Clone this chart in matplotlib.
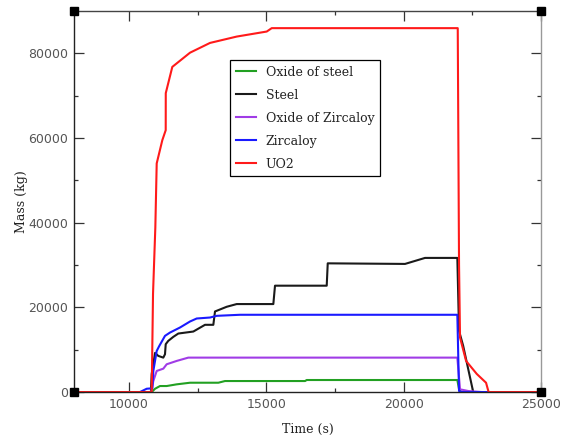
import matplotlib
matplotlib.use("Agg")
import matplotlib.pyplot as plt
from matplotlib.ticker import MultipleLocator

# Masses vs time
t_oxsteel = [8000, 10828, 10950, 11130, 11374, 11738, 12222, 13253, 13496, 16410, 16470, 21952, 22014, 22087, 25000]
m_oxsteel = [0, 0, 780, 1420, 1420, 1820, 2200, 2200, 2600, 2600, 2840, 2840, 640, 0, 0]

t_steel = [8000, 10800, 10828, 10950, 11070, 11250, 11312, 11338, 11432, 11614, 11797, 12343, 12768, 13071,
           13132, 13558, 13922, 15255, 15316, 17198, 17235, 20048, 20776, 21952, 22014, 22165, 22530, 25000]
m_steel = [0, 0, 4270, 9240, 8530, 8130, 8930, 11300, 12090, 13030, 13820, 14290, 15880, 15880,
           19030, 20140, 20780, 20780, 25120, 25120, 30400, 30260, 31680, 31680, 14450, 10900, 0, 0]

t_oxzirc = [8000, 10800, 10828, 10887, 11010, 11250, 11374, 11738, 12160, 21952, 22050, 22352, 22840, 25000]
m_oxzirc = [0, 0, 470, 2600, 4980, 5520, 6560, 7350, 8130, 8130, 640, 240, 0, 0]

t_zirc = [8000, 10400, 10464, 10646, 10850, 10887, 11010, 11105, 11312, 11494, 11858, 12222, 12466, 12950,
          13194, 14042, 21952, 22014, 22123, 25000]
m_zirc = [0, 0, 200, 780, 880, 4980, 9700, 10900, 13270, 14050, 15240, 16660, 17370, 17600,
          18000, 18250, 18250, 240, 0, 0]

t_uo2 = [8000, 10828, 10876, 10960, 11010, 11214, 11338, 11340, 11578, 12222, 12950, 13922, 15015, 15197,
         21967, 22014, 22050, 22270, 22660, 22997, 23080, 23100, 25000]
m_uo2 = [0, 0, 23200, 38860, 54000, 59480, 61850, 70600, 76800, 80150, 82460, 83960, 85150, 85950,
         85950, 30000, 12870, 7350, 4270, 2200, 240, 0, 0]

series = [
    ("Oxide of steel", t_oxsteel, m_oxsteel, "#22a022"),
    ("Steel", t_steel, m_steel, "#1a1a1a"),
    ("Oxide of Zircaloy", t_oxzirc, m_oxzirc, "#a03ce6"),
    ("Zircaloy", t_zirc, m_zirc, "#1a1aff"),
    ("UO2", t_uo2, m_uo2, "#ff1a1a"),
]

fig = plt.figure(figsize=(5.71, 4.40), dpi=100)
ax = fig.add_axes([0.1296, 0.109, 0.818, 0.866])

for name, t, m, c in series:
    ax.plot(t, m, color=c, lw=1.5, label=name)

ax.set_xlim(8000, 25000)
ax.set_ylim(0, 90000)
ax.xaxis.set_major_locator(MultipleLocator(5000))
ax.xaxis.set_minor_locator(MultipleLocator(2500))
ax.yaxis.set_major_locator(MultipleLocator(20000))
ax.yaxis.set_minor_locator(MultipleLocator(10000))
ax.tick_params(which="both", direction="in", top=True, right=True, width=0.9,
               labelsize=9, labelcolor="#555555", color="#333333", pad=4)
ax.tick_params(which="major", length=7)
ax.tick_params(which="minor", length=3)

ax.spines["left"].set_color("#222222")
ax.spines["bottom"].set_color("#222222")
ax.spines["top"].set_color("#444444")
ax.spines["right"].set_color("#999999")
for s in ax.spines.values():
    s.set_linewidth(1.0)

# corner squares
ax.plot([0, 1, 0, 1], [0, 0, 1, 1], "s", color="black", ms=6,
        transform=ax.transAxes, clip_on=False, zorder=5)

ax.set_xlabel("Time (s)", family="DejaVu Serif", fontsize=9, color="#222222", labelpad=9)
ax.set_ylabel("Mass (kg)", family="DejaVu Serif", fontsize=9, color="#222222", labelpad=0)

leg = ax.legend(loc="upper left", bbox_to_anchor=(0.334, 0.871), prop={"family": "DejaVu Serif", "size": 9},
                frameon=True, fancybox=False, framealpha=1, edgecolor="black",
                handlelength=1.6, labelspacing=0.8, borderpad=0.45, handletextpad=0.8, borderaxespad=0)
leg.get_frame().set_linewidth(0.9)
for txt in leg.get_texts():
    txt.set_color("#222222")

fig.savefig("out.png", dpi=100)
